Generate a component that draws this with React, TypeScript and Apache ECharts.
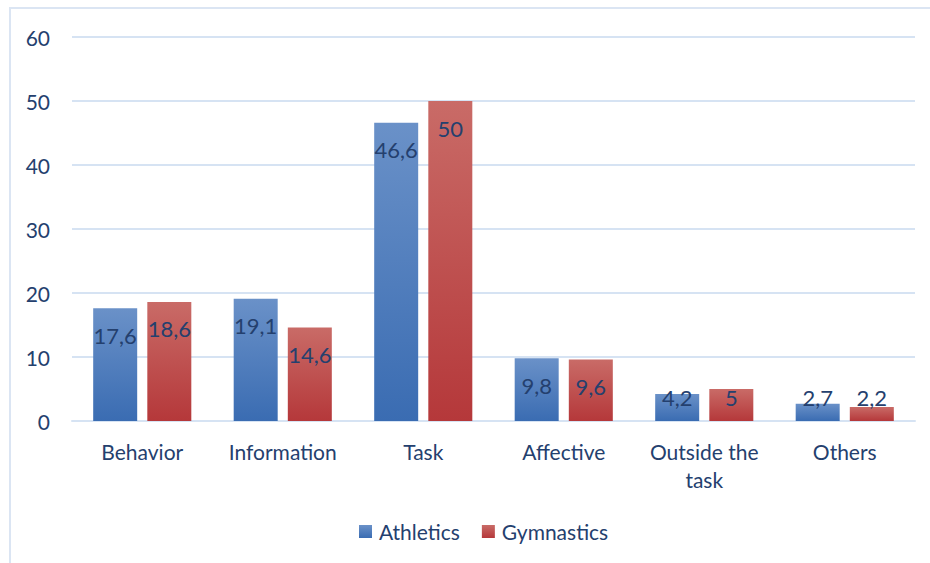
import React, { useEffect, useRef } from "react";
import * as echarts from "echarts";

const categories = ["Behavior", "Information", "Task", "Affective", "Outside the\ntask", "Others"];
const athletics = [17.6, 19.1, 46.6, 9.8, 4.2, 2.7];
const gymnastics = [18.6, 14.6, 50, 9.6, 5, 2.2];
const yTicks = [0, 10, 20, 30, 40, 50, 60];

const FONT = "Lato, 'Open Sans', sans-serif";
const TEXT = "#24406e";

function labelFor(v: number) {
  if (v >= 8) {
    return { show: true, position: "insideTop", distance: 16 };
  }
  return { show: true, position: "insideBottom", distance: 13 };
}

export default function App() {
  const ref = useRef<HTMLDivElement>(null);
  useEffect(() => {
    const chart = echarts.init(ref.current!, null, { renderer: "svg" });
    const mk = (vals: number[]) =>
      vals.map((v) => ({ value: v, label: labelFor(v) }));
    const grad = (top: string, bottom: string) =>
      new echarts.graphic.LinearGradient(0, 0, 0, 1, [
        { offset: 0, color: top },
        { offset: 1, color: bottom },
      ]);
    const labelStyle = {
      show: true,
      color: TEXT,
      fontFamily: FONT,
      fontSize: 22,
      formatter: (p: any) => String(p.value).replace(".", ","),
    };
    chart.setOption({
      animation: false,
      textStyle: { fontFamily: FONT },
      graphic: [
        {
          type: "rect",
          shape: { x: 10, y: 8, width: 940, height: 600 },
          style: { fill: "none", stroke: "#dbe5f3", lineWidth: 2 },
          silent: true,
        },
      ],
      grid: { left: 72, right: 15, top: 37, bottom: 142 },
      legend: {
        left: 354,
        top: 516,
        itemWidth: 13,
        itemHeight: 13,
        itemGap: 22,
        icon: "rect",
        textStyle: { color: TEXT, fontSize: 21, fontFamily: FONT, padding: [0, 0, 0, 2] },
        data: ["Athletics", "Gymnastics"],
      },
      xAxis: {
        type: "category",
        data: categories,
        axisLine: { lineStyle: { color: "#d6e3f3", width: 2 } },
        axisTick: { show: false },
        axisLabel: {
          color: TEXT,
          fontSize: 21,
          fontFamily: FONT,
          margin: 16,
          lineHeight: 28,
          interval: 0,
        },
      },
      yAxis: {
        type: "value",
        min: yTicks[0],
        max: yTicks[yTicks.length - 1],
        interval: 10,
        axisLine: { show: false },
        axisTick: { show: false },
        splitLine: { lineStyle: { color: "#d6e3f3", width: 2 } },
        axisLabel: { color: TEXT, fontSize: 21, fontFamily: FONT, margin: 22 },
      },
      series: [
        {
          name: "Athletics",
          type: "bar",
          data: mk(athletics),
          barWidth: 44,
          barGap: "23%",
          itemStyle: { color: grad("#6a91c8", "#3a6cb2") },
          label: labelStyle,
        },
        {
          name: "Gymnastics",
          type: "bar",
          data: mk(gymnastics),
          barWidth: 44,
          barGap: "23%",
          itemStyle: { color: grad("#c96b67", "#b5383a") },
          label: labelStyle,
        },
      ],
    });
    return () => chart.dispose();
  }, []);
  return (
    <div
      ref={ref}
      style={{ position: "fixed", left: 0, top: 0, width: 930, height: 563, background: "#fff" }}
    />
  );
}
